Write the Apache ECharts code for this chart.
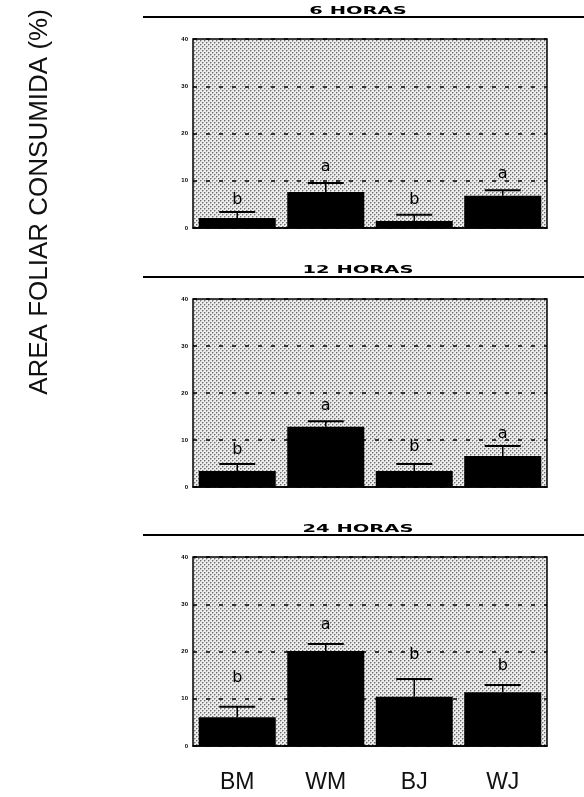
<!DOCTYPE html>
<html>
<head>
<meta charset="utf-8">
<script src="https://cdn.jsdelivr.net/npm/echarts@6/dist/echarts.min.js"></script>
<style>
  html, body { margin: 0; padding: 0; background: #fff; }
  #chart { width: 584px; height: 797px; }
</style>
</head>
<body>
<div id="chart"></div>
<script>
// categories and panel titles
const categories = ['BM', 'WM', 'BJ', 'WJ'];
const panelTitles = ['6 HORAS', '12 HORAS', '24 HORAS'];
const yTickLabels = ['0', '10', '20', '30', '40'];

// mean % leaf area consumed
const means6 = [2.1, 7.6, 1.5, 6.8];
const means12 = [3.4, 12.8, 3.4, 6.6];
const means24 = [6.1, 20.1, 10.4, 11.4];

// upper error (added on top of the mean)
const err6 = [1.3, 1.9, 1.3, 1.2];
const err12 = [1.5, 1.2, 1.5, 2.1];
const err24 = [2.2, 1.5, 3.8, 1.5];

// significance letters and the height where they sit
const letters6 = ['b', 'a', 'b', 'a'];
const letters12 = ['b', 'a', 'b', 'a'];
const letters24 = ['b', 'a', 'b', 'b'];
const letterY6 = [5.9, 13.0, 5.9, 11.4];
const letterY12 = [7.9, 17.2, 8.5, 11.3];
const letterY24 = [14.4, 25.6, 19.3, 16.9];

const panels = [
    {means: means6, err: err6, letters: letters6, letterY: letterY6},
    {means: means12, err: err12, letters: letters12, letterY: letterY12},
    {means: means24, err: err24, letters: letters24, letterY: letterY24}
];

// stippled background
function makeStipple() {
    const c = document.createElement('canvas');
    c.width = 4; c.height = 4;
    const ctx = c.getContext('2d');
    ctx.fillStyle = '#ececec';
    ctx.fillRect(0, 0, 4, 4);
    ctx.fillStyle = '#b4b4b4';
    ctx.fillRect(0, 0, 2, 1); ctx.fillRect(0, 0, 1, 2);
    ctx.fillRect(2, 2, 2, 1); ctx.fillRect(2, 2, 1, 2);
    ctx.fillStyle = '#6e6e6e';
    ctx.fillRect(0, 0, 1, 1);
    ctx.fillRect(2, 2, 1, 1);
    return c;
}
const stipple = {image: makeStipple(), repeat: 'repeat'};

const gridTops = [39, 299, 557];
const gridHeights = [189, 188, 189];
const titleY = [11, 270, 529];
const ruleY = [17, 277, 535];

const grids = [], xAxes = [], yAxes = [], series = [], graphics = [];

panels.forEach(function (p, i) {
    grids.push({
        left: 193, width: 354, top: gridTops[i], height: gridHeights[i],
        show: true, backgroundColor: stipple,
        borderColor: '#000', borderWidth: 1.5
    });
    xAxes.push({
        type: 'category', gridIndex: i, data: categories,
        axisLine: {show: true, lineStyle: {color: '#000', width: 1.5}},
        axisTick: {show: false},
        axisLabel: {
            show: i === 2, margin: 25, fontSize: 23,
            fontFamily: 'Liberation Sans', color: '#111'
        }
    });
    yAxes.push({
        type: 'value', gridIndex: i, min: 0, max: 40, interval: 10,
        axisLine: {show: false},
        axisTick: {show: false},
        axisLabel: {
            margin: 5, fontSize: 6, fontWeight: 'bold', color: '#000',
            formatter: function (v) { return yTickLabels[v / 10]; }
        },
        splitLine: {show: true, lineStyle: {color: '#000', width: 1.5, type: [4, 9]}}
    });
    series.push({
        type: 'bar', xAxisIndex: i, yAxisIndex: i,
        data: p.means, barWidth: '87%',
        itemStyle: {color: '#000'},
        z: 3
    });
    series.push({
        type: 'custom', xAxisIndex: i, yAxisIndex: i,
        data: p.means.map(function (m, k) { return [k, m, m + p.err[k]]; }),
        renderItem: function (params, api) {
            const lo = api.coord([api.value(0), api.value(1)]);
            const hi = api.coord([api.value(0), api.value(2)]);
            const half = 18;
            return {
                type: 'group',
                children: [
                    {type: 'line', shape: {x1: lo[0], y1: lo[1], x2: hi[0], y2: hi[1]},
                     style: {stroke: '#000', lineWidth: 1.5}},
                    {type: 'line', shape: {x1: hi[0] - half, y1: hi[1], x2: hi[0] + half, y2: hi[1]},
                     style: {stroke: '#000', lineWidth: 2}}
                ]
            };
        },
        z: 4
    });
    series.push({
        type: 'scatter', xAxisIndex: i, yAxisIndex: i,
        symbolSize: 0,
        itemStyle: {opacity: 1},
        data: p.letterY.map(function (y, k) { return [k, y]; }),
        label: {
            show: true, position: 'inside',
            fontSize: 16, fontFamily: 'DejaVu Sans', color: '#000',
            formatter: function (d) { return p.letters[d.dataIndex]; }
        },
        z: 5
    });
    graphics.push({
        type: 'text', x: 358, y: titleY[i], scaleX: 1.95,
        style: {
            text: panelTitles[i], fontSize: 10, fontWeight: 'bold',
            fontFamily: 'DejaVu Sans', fill: '#000',
            align: 'center', verticalAlign: 'middle'
        }
    });
    graphics.push({
        type: 'line',
        shape: {x1: 143, y1: ruleY[i], x2: 584, y2: ruleY[i]},
        style: {stroke: '#000', lineWidth: 2}
    });
});

graphics.push({
    type: 'text', x: 40, y: 202, rotation: Math.PI / 2,
    style: {
        text: 'AREA FOLIAR CONSUMIDA (%)', fontSize: 26,
        fontFamily: 'Liberation Sans', fill: '#111',
        align: 'center', verticalAlign: 'middle'
    }
});

const chart = echarts.init(document.getElementById('chart'), null, {renderer: 'canvas'});
chart.setOption({
    animation: false,
    backgroundColor: '#fff',
    grid: grids,
    xAxis: xAxes,
    yAxis: yAxes,
    series: series,
    graphic: graphics
});
</script>
</body>
</html>
